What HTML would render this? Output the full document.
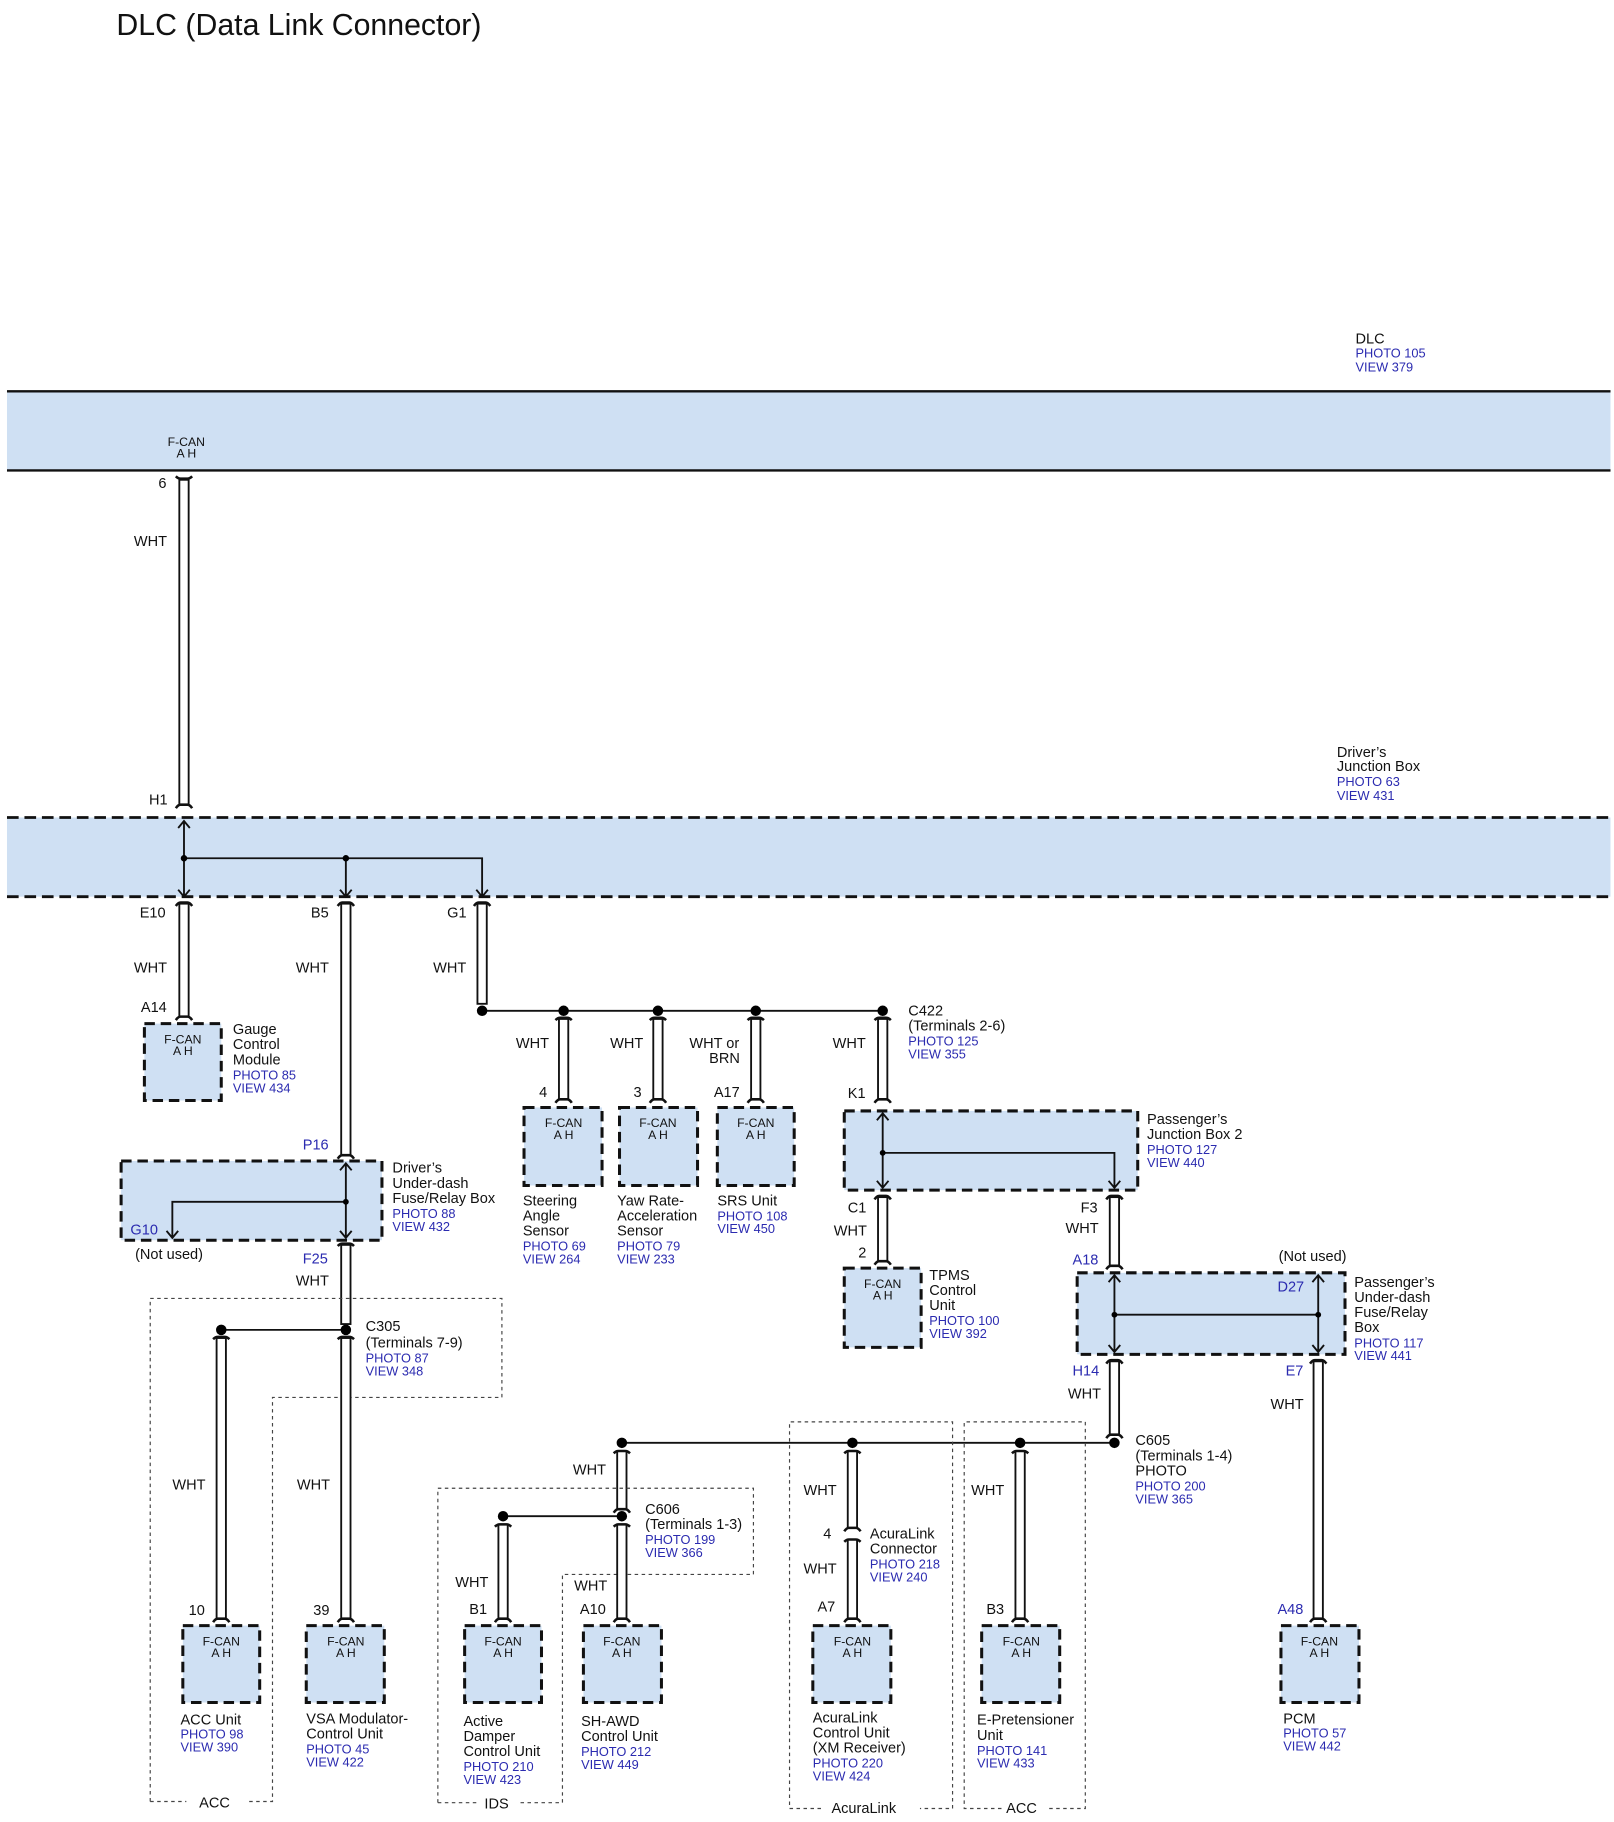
<!DOCTYPE html>
<html><head><meta charset="utf-8"><style>
html,body{margin:0;padding:0;background:#fff}
svg{display:block}
text{font-family:"Liberation Sans",Arial,sans-serif;fill:#111}
.t{font-size:12.5px}
.b{font-size:11px;fill:#2b2bb0}
.bl{font-size:12.5px;fill:#2b2bb0}
.f{font-size:10.5px}
.w{fill:#fff;stroke:#111;stroke-width:1.6}
.box{fill:#cfe0f3;stroke:#111;stroke-width:2.6;stroke-dasharray:9,5}
.ln{stroke:#111;stroke-width:1.6;fill:none}
.dot{stroke:#444;stroke-width:1;fill:none;stroke-dasharray:3,3}
.cap{stroke:#111;stroke-width:2.2;fill:none}
</style></head><body>
<svg width="1614" height="1822" viewBox="0 0 1386 1564.6" preserveAspectRatio="none" xmlns="http://www.w3.org/2000/svg">
<text x="100" y="30" style="font-size:26px">DLC (Data Link Connector)</text>

<!-- DLC -->
<text class="t" x="1164" y="295">DLC</text>
<text class="b" x="1164" y="307">PHOTO 105</text>
<text class="b" x="1164" y="319">VIEW 379</text>
<rect x="6" y="336" width="1377" height="68" fill="#cfe0f3"/>
<line x1="6" y1="336" x2="1383" y2="336" stroke="#111" stroke-width="2"/>
<line x1="6" y1="404" x2="1383" y2="404" stroke="#111" stroke-width="2"/>
<text class="f" x="160" y="383" text-anchor="middle">F-CAN</text>
<text class="f" x="160" y="393" text-anchor="middle">A H</text>

<!-- wire 6-H1 -->
<rect class="w" x="154" y="412" width="8" height="279"/>
<text class="t" x="136" y="419">6</text>
<text class="t" x="115" y="469">WHT</text>
<text class="t" x="128" y="691">H1</text>

<!-- Driver's Junction Box -->
<text class="t" x="1148" y="650">Driver’s</text>
<text class="t" x="1148" y="662">Junction Box</text>
<text class="b" x="1148" y="675">PHOTO 63</text>
<text class="b" x="1148" y="687">VIEW 431</text>
<rect x="6" y="702" width="1377" height="68" fill="#cfe0f3"/>
<line x1="6" y1="702" x2="1383" y2="702" stroke="#111" stroke-width="2.4" stroke-dasharray="10,5"/>
<line x1="6" y1="770" x2="1383" y2="770" stroke="#111" stroke-width="2.4" stroke-dasharray="10,5"/>
<path class="ln" d="M158 770 V705 M153 711 L158 705 L163 711 M158 737 H414 V770 M297 737 V770 M153 764 L158 770 L163 764 M292 764 L297 770 L302 764 M409 764 L414 770 L419 764"/>
<circle cx="158" cy="737" r="2.8"/><circle cx="297" cy="737" r="2.8"/>

<!-- E10 wire to gauge -->
<rect class="w" x="154" y="776" width="8" height="97"/>
<text class="t" x="120" y="788">E10</text>
<text class="t" x="115" y="835">WHT</text>
<text class="t" x="121" y="869">A14</text>
<rect class="box" x="124" y="879" width="66" height="66"/>
<text class="f" x="157" y="896" text-anchor="middle">F-CAN</text>
<text class="f" x="157" y="906" text-anchor="middle">A H</text>
<text class="t" x="200" y="888">Gauge</text>
<text class="t" x="200" y="901">Control</text>
<text class="t" x="200" y="914">Module</text>
<text class="b" x="200" y="927">PHOTO 85</text>
<text class="b" x="200" y="938">VIEW 434</text>

<!-- B5 -->
<rect class="w" x="293" y="776" width="8" height="216"/>
<text class="t" x="267" y="788">B5</text>
<text class="t" x="254" y="835">WHT</text>
<text class="bl" x="260" y="987">P16</text>
<rect class="box" x="104" y="997" width="224" height="68"/>
<path class="ln" d="M297 999 V1063 M292 1005 L297 999 L302 1005 M292 1057 L297 1063 L302 1057 M297 1032 H148 V1063 M143 1057 L148 1063 L153 1057"/>
<circle cx="297" cy="1032" r="2.5"/>
<text class="bl" x="112" y="1060">G10</text>
<text class="t" x="116" y="1081">(Not used)</text>
<text class="t" x="337" y="1007">Driver’s</text>
<text class="t" x="337" y="1020">Under-dash</text>
<text class="t" x="337" y="1033">Fuse/Relay Box</text>
<text class="b" x="337" y="1046">PHOTO 88</text>
<text class="b" x="337" y="1057">VIEW 432</text>
<text class="bl" x="260" y="1085">F25</text>
<text class="t" x="254" y="1104">WHT</text>
<rect class="w" x="293" y="1069" width="8" height="68"/>

<!-- ACC region -->
<path class="dot" d="M129 1547 V1115 H431 V1200 H234 V1547 H214 M129 1547 H160"/>
<text class="t" x="171" y="1552">ACC</text>
<line class="ln" x1="190" y1="1142" x2="297" y2="1142"/>
<circle cx="190" cy="1142" r="4.5"/><circle cx="297" cy="1142" r="4.5"/>
<text class="t" x="314" y="1143">C305</text>
<text class="t" x="314" y="1157">(Terminals 7-9)</text>
<text class="b" x="314" y="1170">PHOTO 87</text>
<text class="b" x="314" y="1181">VIEW 348</text>
<rect class="w" x="186" y="1149" width="8" height="241"/>
<rect class="w" x="293" y="1149" width="8" height="241"/>
<text class="t" x="148" y="1279">WHT</text>
<text class="t" x="255" y="1279">WHT</text>
<text class="t" x="162" y="1387">10</text>
<text class="t" x="269" y="1387">39</text>
<rect class="box" x="157" y="1396" width="66" height="66"/>
<text class="f" x="190" y="1413" text-anchor="middle">F-CAN</text>
<text class="f" x="190" y="1423" text-anchor="middle">A H</text>
<rect class="box" x="263" y="1396" width="67" height="66"/>
<text class="f" x="297" y="1413" text-anchor="middle">F-CAN</text>
<text class="f" x="297" y="1423" text-anchor="middle">A H</text>
<text class="t" x="155" y="1481">ACC Unit</text>
<text class="b" x="155" y="1493">PHOTO 98</text>
<text class="b" x="155" y="1504">VIEW 390</text>
<text class="t" x="263" y="1480">VSA Modulator-</text>
<text class="t" x="263" y="1493">Control Unit</text>
<text class="b" x="263" y="1506">PHOTO 45</text>
<text class="b" x="263" y="1517">VIEW 422</text>

<!-- G1 -->
<rect class="w" x="410" y="776" width="8" height="86"/>
<text class="t" x="384" y="788">G1</text>
<text class="t" x="372" y="835">WHT</text>
<line class="ln" x1="414" y1="868" x2="758" y2="868"/>
<circle cx="414" cy="868" r="4.5"/><circle cx="484" cy="868" r="4.5"/><circle cx="565" cy="868" r="4.5"/><circle cx="649" cy="868" r="4.5"/><circle cx="758" cy="868" r="4.5"/>
<rect class="w" x="480" y="875" width="8" height="69"/>
<rect class="w" x="561" y="875" width="8" height="69"/>
<rect class="w" x="645" y="875" width="8" height="69"/>
<rect class="w" x="754" y="875" width="8" height="69"/>
<text class="t" x="443" y="900">WHT</text>
<text class="t" x="524" y="900">WHT</text>
<text class="t" x="592" y="900">WHT or</text>
<text class="t" x="609" y="913">BRN</text>
<text class="t" x="715" y="900">WHT</text>
<text class="t" x="463" y="942">4</text>
<text class="t" x="544" y="942">3</text>
<text class="t" x="613" y="942">A17</text>
<text class="t" x="728" y="943">K1</text>
<rect class="box" x="450" y="951" width="67" height="67"/>
<text class="f" x="484" y="968" text-anchor="middle">F-CAN</text><text class="f" x="484" y="978" text-anchor="middle">A H</text>
<rect class="box" x="532" y="951" width="67" height="67"/>
<text class="f" x="565" y="968" text-anchor="middle">F-CAN</text><text class="f" x="565" y="978" text-anchor="middle">A H</text>
<rect class="box" x="616" y="951" width="66" height="67"/>
<text class="f" x="649" y="968" text-anchor="middle">F-CAN</text><text class="f" x="649" y="978" text-anchor="middle">A H</text>
<text class="t" x="449" y="1035">Steering</text><text class="t" x="449" y="1048">Angle</text><text class="t" x="449" y="1061">Sensor</text>
<text class="b" x="449" y="1074">PHOTO 69</text><text class="b" x="449" y="1085">VIEW 264</text>
<text class="t" x="530" y="1035">Yaw Rate-</text><text class="t" x="530" y="1048">Acceleration</text><text class="t" x="530" y="1061">Sensor</text>
<text class="b" x="530" y="1074">PHOTO 79</text><text class="b" x="530" y="1085">VIEW 233</text>
<text class="t" x="616" y="1035">SRS Unit</text>
<text class="b" x="616" y="1048">PHOTO 108</text><text class="b" x="616" y="1059">VIEW 450</text>
<text class="t" x="780" y="872">C422</text>
<text class="t" x="780" y="885">(Terminals 2-6)</text>
<text class="b" x="780" y="898">PHOTO 125</text>
<text class="b" x="780" y="909">VIEW 355</text>

<!-- Passenger's JB2 -->
<rect class="box" x="725" y="954" width="252" height="68"/>
<path class="ln" d="M758 956 V1020 M753 962 L758 956 L763 962 M753 1014 L758 1020 L763 1014 M758 990 H957 V1020 M952 1014 L957 1020 L962 1014"/>
<circle cx="758" cy="990" r="2.5"/>
<text class="t" x="985" y="965">Passenger’s</text>
<text class="t" x="985" y="978">Junction Box 2</text>
<text class="b" x="985" y="991">PHOTO 127</text>
<text class="b" x="985" y="1002">VIEW 440</text>
<rect class="w" x="754" y="1028" width="8" height="55"/>
<text class="t" x="728" y="1041">C1</text>
<text class="t" x="716" y="1061">WHT</text>
<text class="t" x="737" y="1080">2</text>
<rect class="box" x="725" y="1089" width="66" height="68"/>
<text class="f" x="758" y="1106" text-anchor="middle">F-CAN</text><text class="f" x="758" y="1116" text-anchor="middle">A H</text>
<text class="t" x="798" y="1099">TPMS</text><text class="t" x="798" y="1112">Control</text><text class="t" x="798" y="1125">Unit</text>
<text class="b" x="798" y="1138">PHOTO 100</text><text class="b" x="798" y="1149">VIEW 392</text>
<rect class="w" x="953" y="1028" width="8" height="59"/>
<text class="t" x="928" y="1041">F3</text>
<text class="t" x="915" y="1059">WHT</text>
<text class="bl" x="921" y="1086">A18</text>

<!-- Passenger's under-dash -->
<text class="t" x="1098" y="1083">(Not used)</text>
<rect class="box" x="925" y="1093" width="230" height="70"/>
<path class="ln" d="M957 1095 V1161 M952 1101 L957 1095 L962 1101 M952 1155 L957 1161 L962 1155 M957 1129 H1132 M1132 1095 V1161 M1127 1101 L1132 1095 L1137 1101 M1127 1155 L1132 1161 L1137 1155"/>
<circle cx="957" cy="1129" r="2.5"/><circle cx="1132" cy="1129" r="2.5"/>
<text class="bl" x="1097" y="1109">D27</text>
<text class="t" x="1163" y="1105">Passenger’s</text>
<text class="t" x="1163" y="1118">Under-dash</text>
<text class="t" x="1163" y="1131">Fuse/Relay</text>
<text class="t" x="1163" y="1144">Box</text>
<text class="b" x="1163" y="1157">PHOTO 117</text>
<text class="b" x="1163" y="1168">VIEW 441</text>
<text class="bl" x="921" y="1181">H14</text>
<text class="t" x="917" y="1201">WHT</text>
<rect class="w" x="953" y="1169" width="8" height="63"/>
<text class="bl" x="1104" y="1181">E7</text>
<text class="t" x="1091" y="1210">WHT</text>
<rect class="w" x="1128" y="1169" width="8" height="221"/>
<text class="bl" x="1097" y="1386">A48</text>
<rect class="box" x="1100" y="1396" width="67" height="66"/>
<text class="f" x="1133" y="1413" text-anchor="middle">F-CAN</text><text class="f" x="1133" y="1423" text-anchor="middle">A H</text>
<text class="t" x="1102" y="1480">PCM</text>
<text class="b" x="1102" y="1492">PHOTO 57</text>
<text class="b" x="1102" y="1503">VIEW 442</text>

<!-- C605 bus -->
<line class="ln" x1="534" y1="1239" x2="957" y2="1239"/>
<circle cx="534" cy="1239" r="4.5"/><circle cx="732" cy="1239" r="4.5"/><circle cx="876" cy="1239" r="4.5"/><circle cx="957" cy="1239" r="4.5"/>
<text class="t" x="975" y="1241">C605</text>
<text class="t" x="975" y="1254">(Terminals 1-4)</text>
<text class="t" x="975" y="1267">PHOTO</text>
<text class="b" x="975" y="1280">PHOTO 200</text>
<text class="b" x="975" y="1291">VIEW 365</text>

<!-- C606 -->
<rect class="w" x="530" y="1246" width="8" height="50"/>
<text class="t" x="492" y="1266">WHT</text>
<line class="ln" x1="432" y1="1302" x2="534" y2="1302"/>
<circle cx="432" cy="1302" r="4.5"/><circle cx="534" cy="1302" r="4.5"/>
<text class="t" x="554" y="1300">C606</text>
<text class="t" x="554" y="1313">(Terminals 1-3)</text>
<text class="b" x="554" y="1326">PHOTO 199</text>
<text class="b" x="554" y="1337">VIEW 366</text>
<path class="dot" d="M376 1548 V1278 H647 V1352 H483 V1548 H445 M376 1548 H412"/>
<text class="t" x="416" y="1553">IDS</text>
<rect class="w" x="428" y="1309" width="8" height="81"/>
<rect class="w" x="530" y="1309" width="8" height="81"/>
<text class="t" x="391" y="1363">WHT</text>
<text class="t" x="493" y="1366">WHT</text>
<text class="t" x="403" y="1386">B1</text>
<text class="t" x="498" y="1386">A10</text>
<rect class="box" x="399" y="1396" width="66" height="66"/>
<text class="f" x="432" y="1413" text-anchor="middle">F-CAN</text><text class="f" x="432" y="1423" text-anchor="middle">A H</text>
<rect class="box" x="501" y="1396" width="67" height="66"/>
<text class="f" x="534" y="1413" text-anchor="middle">F-CAN</text><text class="f" x="534" y="1423" text-anchor="middle">A H</text>
<text class="t" x="398" y="1482">Active</text><text class="t" x="398" y="1495">Damper</text><text class="t" x="398" y="1508">Control Unit</text>
<text class="b" x="398" y="1521">PHOTO 210</text><text class="b" x="398" y="1532">VIEW 423</text>
<text class="t" x="499" y="1482">SH-AWD</text><text class="t" x="499" y="1495">Control Unit</text>
<text class="b" x="499" y="1508">PHOTO 212</text><text class="b" x="499" y="1519">VIEW 449</text>

<!-- AcuraLink -->
<path class="dot" d="M705 1553 H678 V1221 H818 V1553 H790"/>
<text class="t" x="714" y="1557">AcuraLink</text>
<rect class="w" x="728" y="1246" width="8" height="66"/>
<rect class="w" x="728" y="1322" width="8" height="68"/>
<text class="t" x="690" y="1284">WHT</text>
<text class="t" x="707" y="1321">4</text>
<text class="t" x="690" y="1351">WHT</text>
<text class="t" x="702" y="1384">A7</text>
<text class="t" x="747" y="1321">AcuraLink</text>
<text class="t" x="747" y="1334">Connector</text>
<text class="b" x="747" y="1347">PHOTO 218</text>
<text class="b" x="747" y="1358">VIEW 240</text>
<rect class="box" x="698" y="1396" width="67" height="66"/>
<text class="f" x="732" y="1413" text-anchor="middle">F-CAN</text><text class="f" x="732" y="1423" text-anchor="middle">A H</text>
<text class="t" x="698" y="1479">AcuraLink</text><text class="t" x="698" y="1492">Control Unit</text><text class="t" x="698" y="1505">(XM Receiver)</text>
<text class="b" x="698" y="1518">PHOTO 220</text><text class="b" x="698" y="1529">VIEW 424</text>

<!-- E-Pretensioner -->
<path class="dot" d="M860 1553 H828 V1221 H932 V1553 H898"/>
<text class="t" x="864" y="1557">ACC</text>
<rect class="w" x="872" y="1246" width="8" height="144"/>
<text class="t" x="834" y="1284">WHT</text>
<text class="t" x="847" y="1386">B3</text>
<rect class="box" x="843" y="1396" width="67" height="66"/>
<text class="f" x="877" y="1413" text-anchor="middle">F-CAN</text><text class="f" x="877" y="1423" text-anchor="middle">A H</text>
<text class="t" x="839" y="1481">E-Pretensioner</text><text class="t" x="839" y="1494">Unit</text>
<text class="b" x="839" y="1507">PHOTO 141</text><text class="b" x="839" y="1518">VIEW 433</text>

<!-- wire caps -->
<g class="cap">
<path d="M151 409 Q153 411 155 411 H161 Q163 411 165 409"/>
<path d="M151 694 Q153 691 155 691 H161 Q163 691 165 694"/>
<path d="M151 778 Q153 775 155 775 H161 Q163 775 165 778"/>
<path d="M151 876 Q153 873 155 873 H161 Q163 873 165 876"/>
<path d="M290 778 Q292 775 294 775 H300 Q302 775 304 778"/>
<path d="M290 995 Q292 992 294 992 H300 Q302 992 304 995"/>
<path d="M290 1070 Q292 1068 294 1068 H300 Q302 1068 304 1070"/>
<path d="M407 778 Q409 775 411 775 H417 Q419 775 421 778"/>
<path d="M183 1150 Q185 1148 187 1148 H193 Q195 1148 197 1150"/>
<path d="M290 1150 Q292 1148 294 1148 H300 Q302 1148 304 1150"/>
<path d="M183 1393 Q185 1390 187 1390 H193 Q195 1390 197 1393"/>
<path d="M290 1393 Q292 1390 294 1390 H300 Q302 1390 304 1393"/>
<path d="M477 876 Q479 874 481 874 H487 Q489 874 491 876"/>
<path d="M558 876 Q560 874 562 874 H568 Q570 874 572 876"/>
<path d="M642 876 Q644 874 646 874 H652 Q654 874 656 876"/>
<path d="M751 876 Q753 874 755 874 H761 Q763 874 765 876"/>
<path d="M477 947 Q479 944 481 944 H487 Q489 944 491 947"/>
<path d="M558 947 Q560 944 562 944 H568 Q570 944 572 947"/>
<path d="M642 947 Q644 944 646 944 H652 Q654 944 656 947"/>
<path d="M751 947 Q753 944 755 944 H761 Q763 944 765 947"/>
<path d="M751 1030 Q753 1027 755 1027 H761 Q763 1027 765 1030"/>
<path d="M751 1086 Q753 1083 755 1083 H761 Q763 1083 765 1086"/>
<path d="M950 1030 Q952 1027 954 1027 H960 Q962 1027 964 1030"/>
<path d="M950 1090 Q952 1087 954 1087 H960 Q962 1087 964 1090"/>
<path d="M950 1171 Q952 1168 954 1168 H960 Q962 1168 964 1171"/>
<path d="M950 1235 Q952 1232 954 1232 H960 Q962 1232 964 1235"/>
<path d="M1125 1171 Q1127 1168 1129 1168 H1135 Q1137 1168 1139 1171"/>
<path d="M1125 1393 Q1127 1390 1129 1390 H1135 Q1137 1390 1139 1393"/>
<path d="M527 1248 Q529 1246 531 1246 H537 Q539 1246 541 1248"/>
<path d="M527 1299 Q529 1296 531 1296 H537 Q539 1296 541 1299"/>
<path d="M425 1311 Q427 1309 429 1309 H435 Q437 1309 439 1311"/>
<path d="M527 1311 Q529 1309 531 1309 H537 Q539 1309 541 1311"/>
<path d="M425 1393 Q427 1390 429 1390 H435 Q437 1390 439 1393"/>
<path d="M527 1393 Q529 1390 531 1390 H537 Q539 1390 541 1393"/>
<path d="M725 1248 Q727 1246 729 1246 H735 Q737 1246 739 1248"/>
<path d="M725 1315 Q727 1312 729 1312 H735 Q737 1312 739 1315"/>
<path d="M725 1324 Q727 1322 729 1322 H735 Q737 1322 739 1324"/>
<path d="M725 1393 Q727 1390 729 1390 H735 Q737 1390 739 1393"/>
<path d="M869 1248 Q871 1246 873 1246 H879 Q881 1246 883 1248"/>
<path d="M869 1393 Q871 1390 873 1390 H879 Q881 1390 883 1393"/>
</g>
</svg>
</body></html>
